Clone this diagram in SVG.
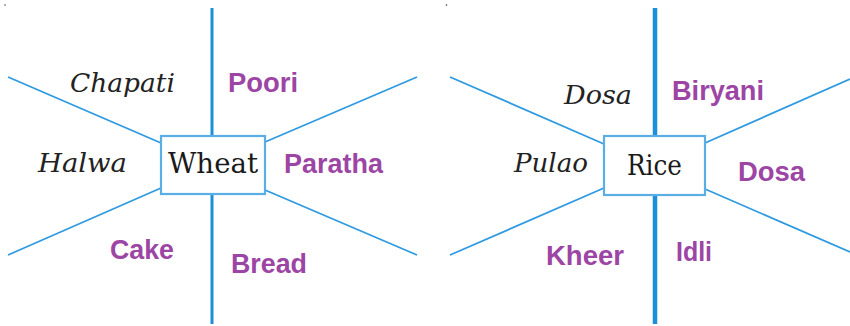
<svg xmlns="http://www.w3.org/2000/svg" width="850" height="326" viewBox="0 0 850 326">
<style>
.ln{stroke:#2f9ae0;stroke-width:1.8;fill:none}
.v1{stroke:#1b8fda;stroke-width:3;fill:none}
.v2{stroke:#1b8fda;stroke-width:4.5;fill:none}
.box{fill:#fff;stroke:#5aaee6;stroke-width:2.2}
.it{font-family:"DejaVu Serif",serif;font-style:italic;font-size:26px;fill:#222}
.ctr{font-family:"DejaVu Serif",serif;font-size:27px;fill:#1a1a1a}
.pp{font-family:"Liberation Sans",Arial,sans-serif;font-weight:bold;font-size:27px;fill:#9c45a4}
</style>
<rect width="850" height="326" fill="#fff"/>
<circle cx="5" cy="5" r="0.8" fill="#444"/>
<circle cx="446.5" cy="5" r="0.8" fill="#444"/>
<g id="connectors">
<line class="v1" x1="212" y1="8" x2="212" y2="324"/>
<line class="ln" x1="8" y1="77" x2="161" y2="143"/>
<line class="ln" x1="8" y1="255" x2="161" y2="188"/>
<line class="ln" x1="265" y1="142" x2="417" y2="77"/>
<line class="ln" x1="265" y1="190" x2="417" y2="255"/>
<line class="v2" x1="655" y1="8" x2="655" y2="324"/>
<line class="ln" x1="450" y1="77" x2="604" y2="144"/>
<line class="ln" x1="450" y1="255" x2="604" y2="188"/>
<line class="ln" x1="705" y1="143" x2="850" y2="79"/>
<line class="ln" x1="705" y1="189" x2="850" y2="252"/>
</g>
<g id="wheat">
<rect class="box" x="161" y="136" width="104" height="58"/>
<text class="ctr" x="168" y="173" textLength="90" lengthAdjust="spacingAndGlyphs">Wheat</text>
</g>
<g id="chapati"><text class="it" x="70" y="92" textLength="105" lengthAdjust="spacingAndGlyphs">Chapati</text></g>
<g id="poori"><text class="pp" x="228" y="92" textLength="70" lengthAdjust="spacingAndGlyphs">Poori</text></g>
<g id="halwa"><text class="it" x="38" y="172" textLength="89" lengthAdjust="spacingAndGlyphs">Halwa</text></g>
<g id="paratha"><text class="pp" x="284" y="173" textLength="99" lengthAdjust="spacingAndGlyphs">Paratha</text></g>
<g id="cake"><text class="pp" x="110" y="259" textLength="64" lengthAdjust="spacingAndGlyphs">Cake</text></g>
<g id="bread"><text class="pp" x="231" y="273" textLength="76" lengthAdjust="spacingAndGlyphs">Bread</text></g>
<g id="rice">
<rect class="box" x="604" y="136" width="101" height="59"/>
<text class="ctr" x="627" y="175" textLength="55" lengthAdjust="spacingAndGlyphs">Rice</text>
</g>
<g id="dosa-it"><text class="it" x="564" y="104" textLength="68" lengthAdjust="spacingAndGlyphs">Dosa</text></g>
<g id="biryani"><text class="pp" x="672" y="100" textLength="92" lengthAdjust="spacingAndGlyphs">Biryani</text></g>
<g id="pulao"><text class="it" x="514" y="172" textLength="74" lengthAdjust="spacingAndGlyphs">Pulao</text></g>
<g id="dosa"><text class="pp" x="738" y="181" textLength="67" lengthAdjust="spacingAndGlyphs">Dosa</text></g>
<g id="kheer"><text class="pp" x="546" y="265" textLength="78" lengthAdjust="spacingAndGlyphs">Kheer</text></g>
<g id="idli"><text class="pp" x="676" y="261" textLength="36" lengthAdjust="spacingAndGlyphs">Idli</text></g>
</svg>
